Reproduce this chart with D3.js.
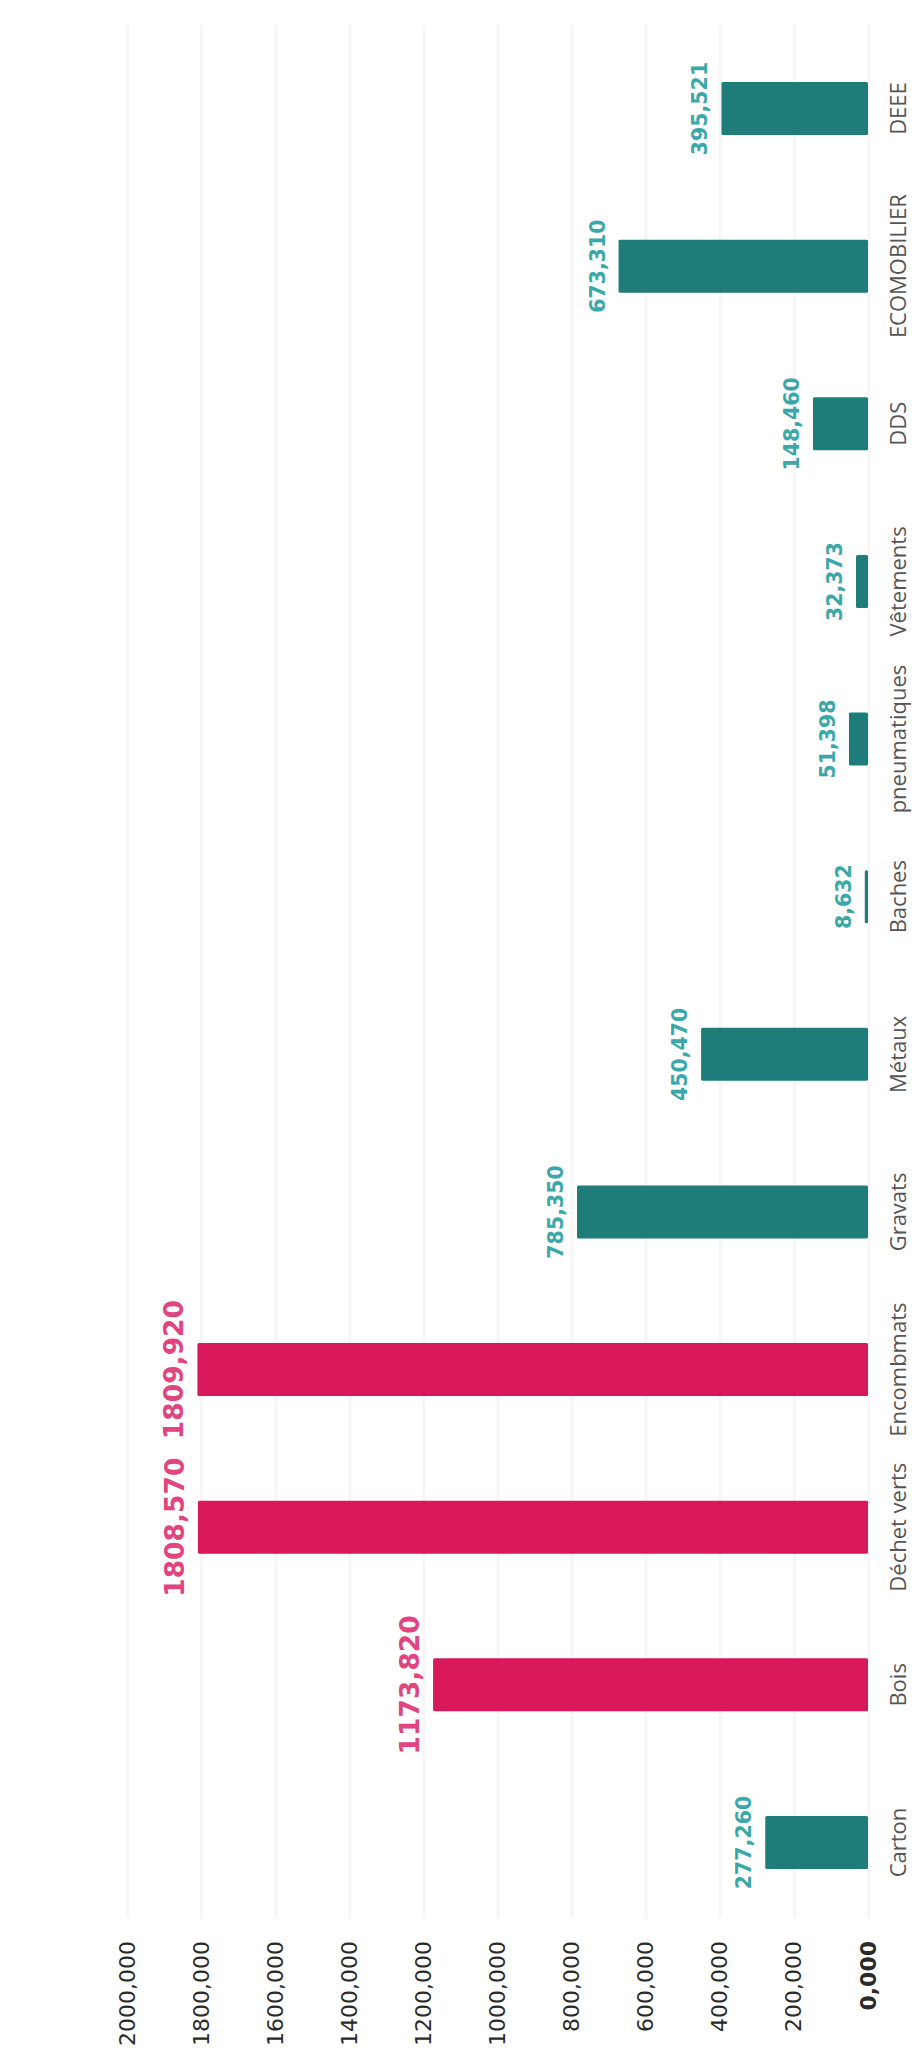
<!DOCTYPE html>
<html>
<head>
<meta charset="utf-8">
<script src="https://cdn.jsdelivr.net/npm/d3@7"></script>
<style>
  html, body { margin: 0; padding: 0; background: #ffffff; }
  svg { display: block; }
</style>
</head>
<body>
<svg id="chart" width="924" height="2068"></svg>
<script>
// ---- data ----
const categories = ["Carton", "Bois", "Déchet verts", "Encombmats", "Gravats", "Métaux",
  "Baches", "pneumatiques", "Vêtements", "DDS", "ECOMOBILIER", "DEEE"];
const tonnages = [277.260, 1173.820, 1808.570, 1809.920, 785.350, 450.470,
  8.632, 51.398, 32.373, 148.460, 673.310, 395.521];
const highlighted = ["Bois", "Déchet verts", "Encombmats"];
const tickValues = [0, 200, 400, 600, 800, 1000, 1200, 1400, 1600, 1800, 2000];

const data = categories.map((c, i) => ({ cat: c, value: tonnages[i], hi: highlighted.includes(c) }));

// ---- layout (chart drawn unrotated, then turned -90deg) ----
const W = 924, H = 2068;
const fmt = v => d3.format(".3f")(v).replace(".", ",");

const svg = d3.select("#chart");
svg.append("rect").attr("width", W).attr("height", H).attr("fill", "#ffffff");

const g = svg.append("g").attr("transform", `translate(0,${H}) rotate(-90)`);

// in the rotated frame: x runs along the page from bottom to top, y runs left to right
const x = d3.scaleBand().domain(categories).range([146.7, 2038.3]).paddingInner(0.664).paddingOuter(0.332);
const y = d3.scaleLinear().domain([0, 2000]).range([868, 127]);

const gridLeft = 150, gridRight = 2043;

const axis = d3.axisLeft(y)
  .tickValues(tickValues)
  .tickSize(-(gridRight - gridLeft))
  .tickPadding(23)
  .tickFormat(fmt);

const ax = g.append("g").attr("transform", `translate(${gridLeft},0)`).call(axis);
ax.select(".domain").remove();
ax.selectAll(".tick line").attr("stroke", "#f6f6f6").attr("stroke-width", 3);
ax.selectAll(".tick text")
  .attr("font-family", "'DejaVu Sans', sans-serif")
  .attr("font-size", 22)
  .attr("fill", "#2a2a2a")
  .attr("font-weight", d => d === 0 ? "bold" : "normal");

// bars
g.selectAll("rect.bar").data(data).enter().append("rect")
  .attr("class", "bar")
  .attr("x", d => x(d.cat))
  .attr("width", x.bandwidth())
  .attr("y", d => y(d.value))
  .attr("height", d => y(0) - y(d.value))
  .attr("rx", 1.5)
  .attr("fill", d => d.hi ? "#d9175b" : "#1e7c79");

// value labels
g.selectAll("text.val").data(data).enter().append("text")
  .attr("class", "val")
  .attr("x", d => x(d.cat) + x.bandwidth() / 2)
  .attr("y", d => y(d.value) - 14)
  .attr("text-anchor", "middle")
  .attr("font-family", "'DejaVu Sans', sans-serif")
  .attr("font-weight", "bold")
  .attr("font-size", d => d.hi ? 26.5 : 20.5)
  .attr("fill", d => d.hi ? "#e0457f" : "#3aa8a8")
  .text(d => fmt(d.value));

// category labels
g.selectAll("text.cat").data(data).enter().append("text")
  .attr("class", "cat")
  .attr("x", d => x(d.cat) + x.bandwidth() / 2)
  .attr("y", 898)
  .attr("dy", "0.35em")
  .attr("text-anchor", "middle")
  .attr("font-family", "'Open Sans', sans-serif")
  .attr("font-size", 22)
  .attr("fill", "#555555")
  .text(d => d.cat);
</script>
</body>
</html>
